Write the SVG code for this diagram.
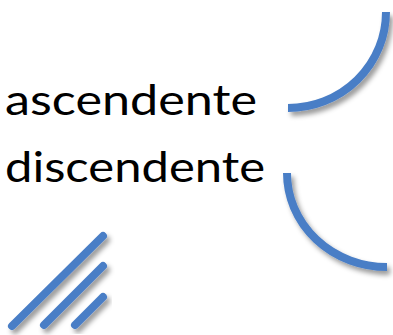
<svg xmlns="http://www.w3.org/2000/svg" width="393" height="335" viewBox="0 0 393 335">
<defs>
<filter id="sh" x="-20%" y="-20%" width="150%" height="150%">
<feDropShadow dx="3" dy="4" stdDeviation="2.5" flood-color="#000" flood-opacity="0.4"/>
</filter>
<style>
.ln{fill:none;stroke:#4A7EC6;stroke-width:8;stroke-linecap:round;filter:url(#sh)}
.curve{fill:none;stroke:#4A7EC6;stroke-width:8;stroke-linecap:butt;filter:url(#sh)}
.t{font-family:"Century Gothic","URW Gothic","Lato","DejaVu Sans",sans-serif;font-size:43px;fill:#000}
</style>
</defs>
<g id="ascendente">
<text class="t" x="5" y="115" textLength="252" lengthAdjust="spacingAndGlyphs">ascendente</text>
<path class="curve" d="M288,108 A98,96 0 0 0 386,12"/>
</g>
<g id="discendente">
<text class="t" x="5" y="182" textLength="260" lengthAdjust="spacingAndGlyphs">discendente</text>
<path class="curve" d="M287,173 A100,94 0 0 0 387,267"/>
</g>
<g id="lines">
<line class="ln" x1="12" y1="326" x2="103" y2="236"/>
<line class="ln" x1="44" y1="325" x2="103" y2="266"/>
<line class="ln" x1="75" y1="325" x2="103" y2="297"/>
</g>
</svg>
